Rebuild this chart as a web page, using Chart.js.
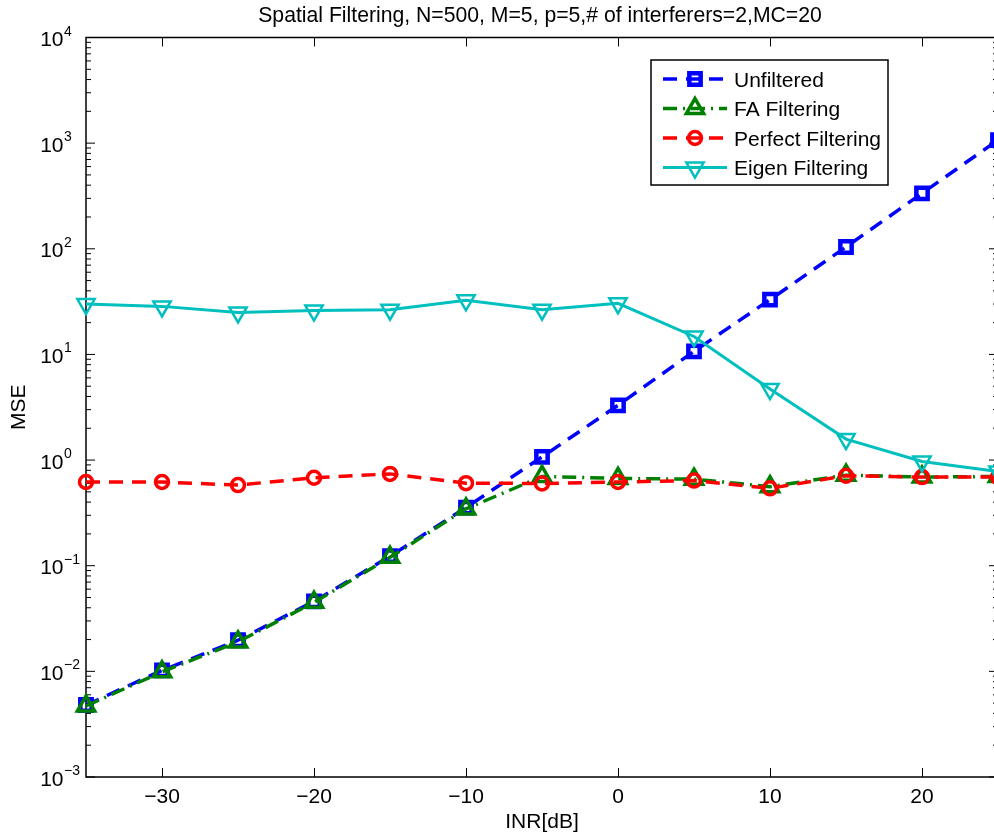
<!DOCTYPE html>
<html>
<head>
<meta charset="utf-8">
<title>Spatial Filtering MSE</title>
<script src="https://cdn.jsdelivr.net/npm/chart.js"></script>
<style>
  html, body { margin: 0; padding: 0; background: #fff; overflow: hidden; }
  #wrap { width: 994px; height: 836px; overflow: hidden; position: relative; }
  #mse-chart { position: absolute; left: 0; top: 0; }
</style>
</head>
<body>
<div id="wrap"><canvas id="mse-chart" width="1004" height="836"></canvas></div>
<script>
"use strict";

// INR values (dB) on the x axis
const inr = [-35, -30, -25, -20, -15, -10, -5, 0, 5, 10, 15, 20, 25];

// MSE per method
const unfiltered = [0.0048, 0.0102, 0.0197, 0.046, 0.123, 0.355, 1.07, 3.3, 10.7, 33, 104, 335, 1070];
const faFiltering = [0.0047, 0.0099, 0.019, 0.045, 0.12, 0.345, 0.70, 0.67, 0.66, 0.56, 0.72, 0.69, 0.70];
const perfectFiltering = [0.62, 0.62, 0.58, 0.68, 0.74, 0.605, 0.60, 0.62, 0.64, 0.54, 0.71, 0.69, 0.69];
const eigenFiltering = [30, 28.5, 25, 26, 26.5, 32.5, 26.5, 30.5, 14.8, 4.7, 1.58, 0.97, 0.78];

const xTicks = [-30, -20, -10, 0, 10, 20];
const yDecades = [-3, -2, -1, 0, 1, 2, 3, 4];

const titleText = 'Spatial Filtering, N=500, M=5, p=5,# of interferers=2,MC=20';
const xLabel = 'INR[dB]';
const yLabel = 'MSE';

const FONT = '"Liberation Sans", Arial, Helvetica, sans-serif';

const series = [
  { label: 'Unfiltered', values: unfiltered, color: '#0000ff', width: 3.5, dash: [14, 9],
    marker: 'rect', radius: 8, markerWidth: 4.5, rotation: 0 },
  { label: 'FA Filtering', values: faFiltering, color: '#008000', width: 3.5, dash: [14, 6, 2, 6],
    marker: 'triangle', radius: 10, markerWidth: 3.5, rotation: 0 },
  { label: 'Perfect Filtering', values: perfectFiltering, color: '#ff0000', width: 3.5, dash: [14, 9],
    marker: 'circle', radius: 6.5, markerWidth: 3.5, rotation: 0 },
  { label: 'Eigen Filtering', values: eigenFiltering, color: '#00bfbf', width: 3, dash: [],
    marker: 'triangle', radius: 10, markerWidth: 2.5, rotation: 180 }
];

// axes box, inward ticks, tick labels, title and axis labels (MATLAB look)
const axesPlugin = {
  id: 'matlabAxes',
  beforeDatasetsDraw(chart) {
    const { ctx, chartArea: a, scales } = chart;
    const xs = scales.x, ys = scales.y;
    ctx.save();
    ctx.strokeStyle = '#000';
    ctx.lineWidth = 1.5;
    ctx.strokeRect(a.left, a.top, a.right - a.left, a.bottom - a.top);

    ctx.lineWidth = 1;
    ctx.beginPath();
    xTicks.forEach(v => {
      const px = Math.round(xs.getPixelForValue(v)) + 0.5;
      ctx.moveTo(px, a.bottom); ctx.lineTo(px, a.bottom - 9);
      ctx.moveTo(px, a.top); ctx.lineTo(px, a.top + 9);
    });
    yDecades.forEach((d, i) => {
      const py = ys.getPixelForValue(Math.pow(10, d));
      ctx.moveTo(a.left, py); ctx.lineTo(a.left + 9, py);
      ctx.moveTo(a.right, py); ctx.lineTo(a.right - 9, py);
      if (i < yDecades.length - 1) {
        for (let m = 2; m <= 9; m++) {
          const pm = ys.getPixelForValue(m * Math.pow(10, d));
          ctx.moveTo(a.left, pm); ctx.lineTo(a.left + 5, pm);
          ctx.moveTo(a.right, pm); ctx.lineTo(a.right - 5, pm);
        }
      }
    });
    ctx.stroke();

    ctx.fillStyle = '#000';
    ctx.font = '21px ' + FONT;
    ctx.textAlign = 'center';
    ctx.textBaseline = 'alphabetic';
    xTicks.forEach(v => {
      const label = v < 0 ? '\u2212' + Math.abs(v) : String(v);
      ctx.fillText(label, xs.getPixelForValue(v), a.bottom + 26);
    });

    yDecades.forEach(d => {
      const py = ys.getPixelForValue(Math.pow(10, d));
      ctx.font = '21px ' + FONT;
      ctx.textAlign = 'right';
      ctx.fillText('10', 63.5, py + 8.5);
      ctx.font = '14px ' + FONT;
      ctx.textAlign = 'left';
      ctx.fillText(d < 0 ? '\u2212' + Math.abs(d) : String(d), 64, py - 2);
    });

    ctx.textAlign = 'center';
    const cx = (a.left + a.right) / 2;
    ctx.font = '21.2px ' + FONT;
    ctx.fillText(titleText, cx - 2, 22);
    ctx.font = '21px ' + FONT;
    ctx.fillText(xLabel, cx, 828);

    ctx.translate(25, (a.top + a.bottom) / 2);
    ctx.rotate(-Math.PI / 2);
    ctx.fillText(yLabel, 0, 0);
    ctx.restore();
  },

  afterDraw(chart) {
    const { ctx } = chart;
    const box = { left: 651, top: 60, right: 888, bottom: 185 };
    const rows = [79, 108.5, 138, 167.5];
    ctx.save();
    ctx.fillStyle = '#fff';
    ctx.fillRect(box.left, box.top, box.right - box.left, box.bottom - box.top);
    ctx.strokeStyle = '#000';
    ctx.lineWidth = 1.5;
    ctx.strokeRect(box.left, box.top, box.right - box.left, box.bottom - box.top);

    series.forEach((s, i) => {
      const y = rows[i];
      ctx.strokeStyle = s.color;
      ctx.lineWidth = s.width;
      ctx.setLineDash(s.dash);
      ctx.beginPath();
      ctx.moveTo(663, y);
      ctx.lineTo(727, y);
      ctx.stroke();
      ctx.setLineDash([]);
      ctx.lineWidth = s.markerWidth;
      ctx.fillStyle = 'rgba(0,0,0,0)';
      Chart.helpers.drawPoint(ctx, {
        pointStyle: s.marker, radius: s.radius, rotation: s.rotation, borderWidth: s.markerWidth
      }, 695, y);
      ctx.fillStyle = '#000';
      ctx.font = '21px ' + FONT;
      ctx.textAlign = 'left';
      ctx.textBaseline = 'alphabetic';
      ctx.fillText(s.label, 734, y + 7.5);
    });
    ctx.restore();
  }
};

const datasets = series.map((s, i) => ({
  label: s.label,
  data: inr.map((x, k) => ({ x: x, y: s.values[k] })),
  borderColor: s.color,
  borderWidth: s.width,
  borderDash: s.dash,
  pointStyle: s.marker,
  pointRadius: s.radius,
  pointRotation: s.rotation,
  pointBorderWidth: s.markerWidth,
  pointBorderColor: s.color,
  pointBackgroundColor: 'rgba(0,0,0,0)',
  fill: false,
  tension: 0,
  clip: false,
  order: series.length - i
}));

// canvas is a bit wider than the page: the right edge of the plot box is cut off, as in the original
new Chart(document.getElementById('mse-chart'), {
  type: 'line',
  data: { datasets: datasets },
  options: {
    responsive: false,
    animation: false,
    events: [],
    layout: { autoPadding: false, padding: { left: 86, top: 37.5, right: 6, bottom: 59 } },
    plugins: {
      legend: { display: false },
      title: { display: false },
      tooltip: { enabled: false }
    },
    scales: {
      x: { type: 'linear', min: -35, max: 25, display: false },
      y: { type: 'logarithmic', min: 1e-3, max: 1e4, display: false }
    }
  },
  plugins: [axesPlugin]
});
</script>
</body>
</html>
